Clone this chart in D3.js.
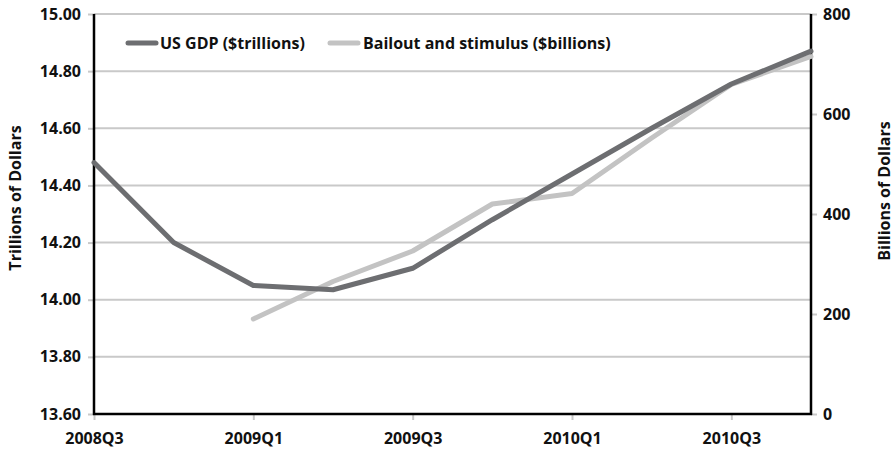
<!DOCTYPE html>
<html>
<head>
<meta charset="utf-8">
<script src="https://cdn.jsdelivr.net/npm/d3@7"></script>
<style>
  html, body { margin: 0; padding: 0; background: #fff; }
  svg text { font-family: "Open Sans", "Noto Sans", sans-serif; font-weight: 700; fill: #111; }
</style>
</head>
<body>
<svg id="chart" width="895" height="450"></svg>
<script>
const quarters = ["2008Q3","2008Q4","2009Q1","2009Q2","2009Q3","2009Q4","2010Q1","2010Q2","2010Q3","2010Q4"];
const xTickLabels = ["2008Q3","2009Q1","2009Q3","2010Q1","2010Q3"];
const gdpTrillions = [14.48, 14.20, 14.05, 14.035, 14.11, 14.28, 14.44, 14.60, 14.755, 14.87];
const bailoutBillions = [null, null, 190, 265, 326, 420, 441, 552, 659, 715];
const leftTicks = [13.6, 13.8, 14.0, 14.2, 14.4, 14.6, 14.8, 15.0];
const rightTicks = [0, 200, 400, 600, 800];
const seriesNames = ["US GDP ($trillions)", "Bailout and stimulus ($billions)"];
const seriesColors = ["#6d6e71", "#c3c3c3"];

const svg = d3.select("#chart");
const L = 94, R = 811, T = 14, B = 414;

const x = d3.scalePoint().domain(quarters).range([L, R]);
const yL = d3.scaleLinear().domain([13.6, 15.0]).range([B, T]);
const yR = d3.scaleLinear().domain([0, 800]).range([B, T]);

// gridlines
svg.append("g").selectAll("line").data(leftTicks).join("line")
  .attr("x1", L).attr("x2", R)
  .attr("y1", d => yL(d)).attr("y2", d => yL(d))
  .attr("stroke", "#c9c9c9").attr("stroke-width", 2);

// left axis
const gL = svg.append("g").attr("transform", `translate(${L},0)`)
  .call(d3.axisLeft(yL).tickValues(leftTicks).tickFormat(d3.format(".2f")).tickSize(6).tickPadding(7));
gL.select(".domain").remove();
gL.selectAll(".tick line").attr("stroke", "#c9c9c9").attr("stroke-width", 2);
gL.selectAll(".tick text").attr("font-size", 16).attr("fill", "#111");

// right axis
const gR = svg.append("g").attr("transform", `translate(${R},0)`)
  .call(d3.axisRight(yR).tickValues(rightTicks).tickSize(6).tickPadding(6));
gR.select(".domain").remove();
gR.selectAll(".tick line").attr("stroke", "#c9c9c9").attr("stroke-width", 2);
gR.selectAll(".tick text").attr("font-size", 16).attr("fill", "#111");

// bottom axis
const gB = svg.append("g").attr("transform", `translate(0,${B})`)
  .call(d3.axisBottom(x).tickValues(xTickLabels).tickSize(6).tickPadding(13));
gB.select(".domain").remove();
gB.selectAll(".tick line").attr("stroke", "#c9c9c9").attr("stroke-width", 2);
gB.selectAll(".tick text").attr("font-size", 16).attr("fill", "#111");

// axis lines
svg.append("line").attr("x1", L).attr("x2", L).attr("y1", T).attr("y2", B + 1).attr("stroke", "#000").attr("stroke-width", 2.5);
svg.append("line").attr("x1", R).attr("x2", R).attr("y1", T).attr("y2", B + 1).attr("stroke", "#000").attr("stroke-width", 2.5);
svg.append("line").attr("x1", L - 1).attr("x2", R + 1).attr("y1", B).attr("y2", B).attr("stroke", "#000").attr("stroke-width", 2.5);

// lines
const lineL = d3.line().x((d, i) => x(quarters[i])).y(d => yL(d));
const lineR = d3.line().defined(d => d != null).x((d, i) => x(quarters[i])).y(d => yR(d));

svg.append("path").datum(bailoutBillions).attr("d", lineR)
  .attr("fill", "none").attr("stroke", seriesColors[1]).attr("stroke-width", 5)
  .attr("stroke-linecap", "round").attr("stroke-linejoin", "round");
svg.append("path").datum(gdpTrillions).attr("d", lineL)
  .attr("fill", "none").attr("stroke", seriesColors[0]).attr("stroke-width", 5)
  .attr("stroke-linecap", "round").attr("stroke-linejoin", "round");

// legend
const legendPos = [{sx: 128, tx: 160}, {sx: 330, tx: 363}];
const lg = svg.append("g");
seriesNames.forEach((name, i) => {
  lg.append("line").attr("x1", legendPos[i].sx).attr("x2", legendPos[i].sx + 28)
    .attr("y1", 43).attr("y2", 43)
    .attr("stroke", seriesColors[i]).attr("stroke-width", 5).attr("stroke-linecap", "round");
  lg.append("text").attr("x", legendPos[i].tx).attr("y", 49)
    .attr("font-size", 16).text(name);
});

// axis titles
svg.append("text").attr("transform", "translate(21,198) rotate(-90)")
  .attr("text-anchor", "middle").attr("font-size", 16).text("Trillions of Dollars");
svg.append("text").attr("transform", "translate(890,191) rotate(-90)")
  .attr("text-anchor", "middle").attr("font-size", 16).text("Billions of Dollars");
</script>
</body>
</html>
